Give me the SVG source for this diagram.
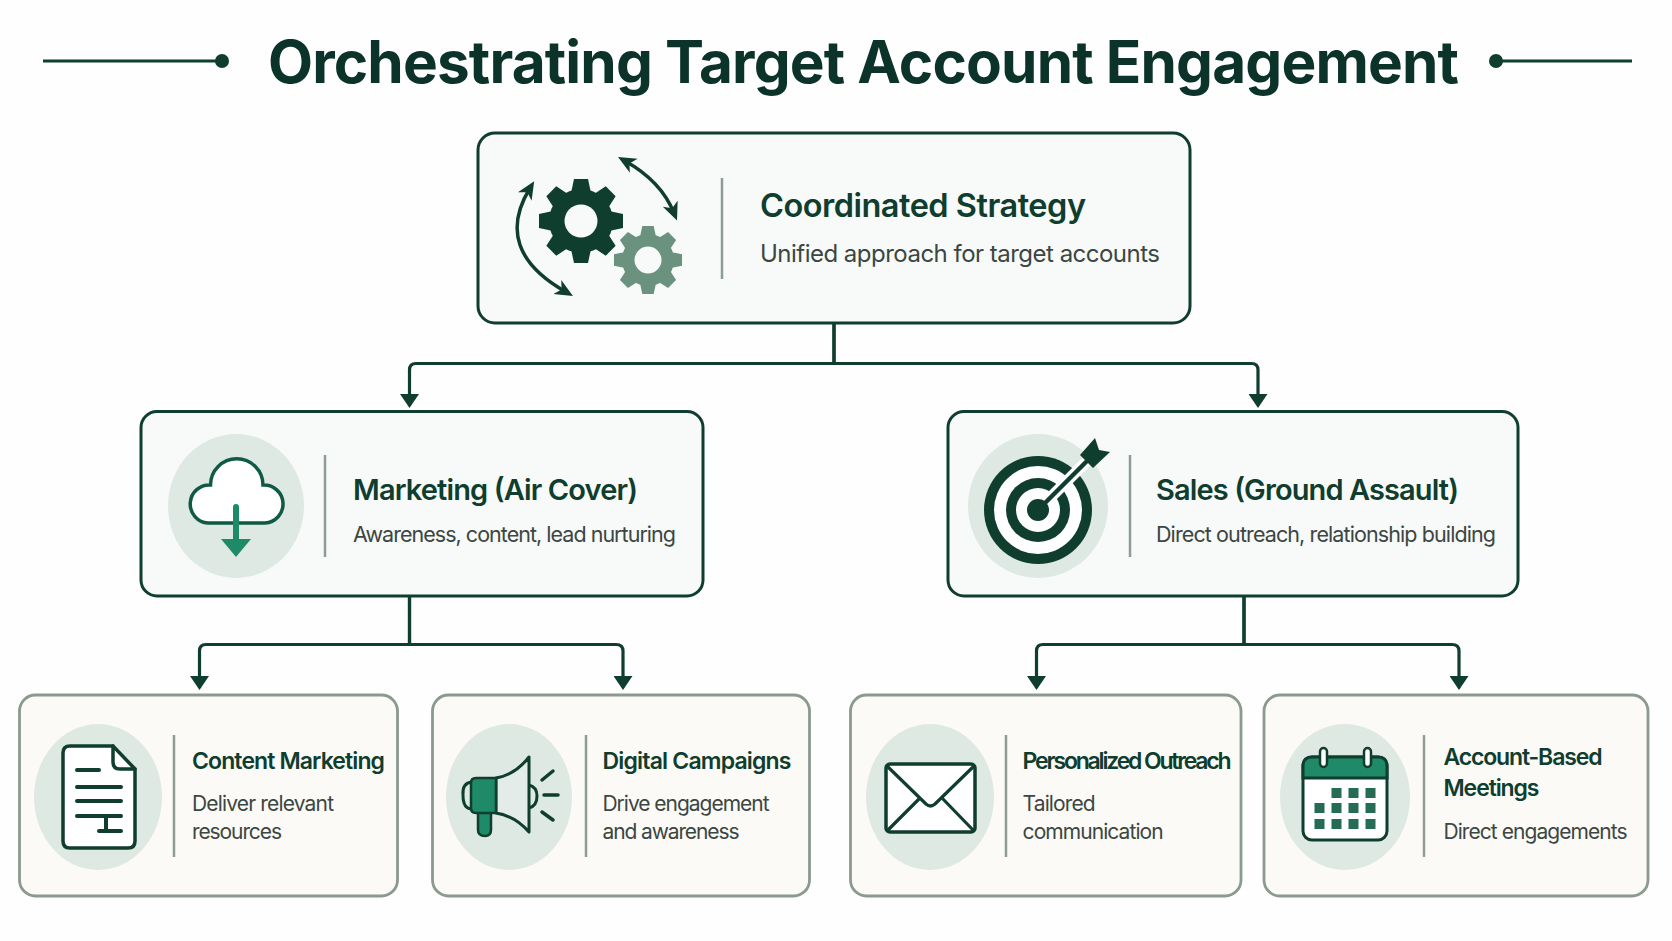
<svg xmlns="http://www.w3.org/2000/svg" xmlns:xlink="http://www.w3.org/1999/xlink" width="1672" height="941" viewBox="0 0 1672 941">
<style>
text{font-family:"Inter","Liberation Sans",sans-serif}
.title{font-size:58.5px;font-weight:700;fill:#0b3329}
.h1{font-size:32.5px;font-weight:600;fill:#0f3d2e}
.s1{font-size:24px;font-weight:400;fill:#3c4642}
.h2{font-size:29px;font-weight:600;fill:#0f3d2e}
.s2{font-size:21.5px;font-weight:400;fill:#3c4642}
.h3{font-size:23px;font-weight:600;fill:#0f3d2e}
.s3{font-size:21px;font-weight:400;fill:#3c4642}
.main{fill:#f7faf8;stroke:#0f3d2e;stroke-width:3}
.leaf{fill:#fbfaf6;stroke:#8b998f;stroke-width:2.800}
.div{stroke:#8f9c95;stroke-width:2.500;fill:none}
.disc{fill:#dfe9e4}
.ink{fill:none;stroke:#0f3d2e;stroke-linecap:round;stroke-linejoin:round}
.conn{fill:none;stroke:#0f3d2e;stroke-width:3.200;stroke-linejoin:round}
.sq{fill:#256b55}
</style>
<defs>
<marker id="ah" markerUnits="userSpaceOnUse" markerWidth="14" markerHeight="19" viewBox="0 0 14 19" refX="1" refY="9.500" orient="auto"><path d="M0 0L14 9.500L0 19Z" fill="#0f3d2e"/></marker>
<marker id="sa" markerUnits="userSpaceOnUse" markerWidth="18" markerHeight="18" viewBox="0 0 18 18" refX="10" refY="9" orient="auto"><path d="M0 1L18 9L0 17L5 9Z" fill="#0f3d2e"/></marker>
<marker id="sb" markerUnits="userSpaceOnUse" markerWidth="18" markerHeight="18" viewBox="0 0 18 18" refX="10" refY="9" orient="auto-start-reverse"><path d="M0 1L18 9L0 17L5 9Z" fill="#0f3d2e"/></marker>
<g id="tooth"><path d="M-10 -28L-7 -42H7L10 -28Z"/></g>
<g id="gear"><circle r="32"/><use xlink:href="#tooth"/><use xlink:href="#tooth" transform="rotate(45)"/><use xlink:href="#tooth" transform="rotate(90)"/><use xlink:href="#tooth" transform="rotate(135)"/><use xlink:href="#tooth" transform="rotate(180)"/><use xlink:href="#tooth" transform="rotate(225)"/><use xlink:href="#tooth" transform="rotate(270)"/><use xlink:href="#tooth" transform="rotate(315)"/></g>
</defs>
<rect width="1672" height="941" fill="#fdfefd"/>
<g id="title">
<path d="M43 61H218M1500 61H1632" stroke="#0f3d2e" stroke-width="3" fill="none"/>
<circle cx="222" cy="61" r="7" fill="#0f3d2e"/><circle cx="1496" cy="61" r="7" fill="#0f3d2e"/>
<text class="title" x="268" y="83" textLength="1191">Orchestrating Target Account Engagement</text>
</g>
<g id="connectors">
<path class="conn" d="M834 323V363.500H416Q409.500 363.500 409.500 370V395" marker-end="url(#ah)"/>
<path class="conn" d="M834 323V363.500H1251.500Q1258 363.500 1258 370V395" marker-end="url(#ah)"/>
<path class="conn" d="M409.500 596V644.500H206Q199.500 644.500 199.500 651V677" marker-end="url(#ah)"/>
<path class="conn" d="M409.500 596V644.500H616Q623 644.500 623 651V677" marker-end="url(#ah)"/>
<path class="conn" d="M1244 596V644.500H1043Q1036.500 644.500 1036.500 651V677" marker-end="url(#ah)"/>
<path class="conn" d="M1244 596V644.500H1452Q1459 644.500 1459 651V677" marker-end="url(#ah)"/>
</g>
<g id="node-strategy">
<rect class="main" x="478" y="133" width="712" height="190" rx="17"/>
<use xlink:href="#gear" transform="translate(581 221)" fill="#0f3d2e"/><circle cx="581" cy="221" r="16.500" fill="#f7faf8"/>
<use xlink:href="#gear" transform="translate(648 260) scale(.81)" fill="#6b917f"/><circle cx="648" cy="260" r="13.500" fill="#f7faf8"/>
<path d="M625 161Q661 181 674 213" fill="none" stroke="#0f3d2e" stroke-width="3.500" marker-start="url(#sb)" marker-end="url(#sa)"/>
<path d="M530 188Q492 250 566 292" fill="none" stroke="#0f3d2e" stroke-width="3.500" marker-start="url(#sb)" marker-end="url(#sa)"/>
<path class="div" d="M722 178V279"/>
<text class="h1" x="760" y="217" textLength="326">Coordinated Strategy</text>
<text class="s1" x="760" y="262" textLength="400">Unified approach for target accounts</text>
</g>
<g id="node-marketing">
<rect class="main" x="141" y="411.500" width="562" height="184.500" rx="16"/>
<ellipse class="disc" cx="236" cy="506" rx="68" ry="72"/>
<path d="M208 523A19 19 0 0 1 210.500 485A26 26 0 0 1 263 485A19 19 0 0 1 265 523Z" fill="#fff" stroke="#0f5a44" stroke-width="3.500"/>
<path d="M236 507V540" stroke="#1f8a67" stroke-width="6" stroke-linecap="round" fill="none"/>
<path d="M221 539H251L236 557Z" fill="#1f8a67"/>
<path class="div" d="M325 455V557"/>
<text class="h2" x="353" y="500" textLength="285">Marketing (Air Cover)</text>
<text class="s2" x="353" y="542" textLength="323">Awareness, content, lead nurturing</text>
</g>
<g id="node-sales">
<rect class="main" x="948" y="411.500" width="570" height="184.500" rx="16"/>
<ellipse class="disc" cx="1038" cy="506" rx="70" ry="72"/>
<circle cx="1038" cy="510" r="54" fill="#0f3d2e"/><circle cx="1038" cy="510" r="44" fill="#fff"/>
<circle cx="1038" cy="510" r="32" fill="#0f3d2e"/><circle cx="1038" cy="510" r="22" fill="#fff"/>
<circle cx="1038" cy="510" r="11" fill="#0f3d2e"/>
<path d="M1046 502L1087 461" stroke="#fff" stroke-width="11" fill="none"/>
<path d="M1040 508L1087 461" stroke="#0f3d2e" stroke-width="4.500" fill="none"/>
<path d="M1080 455L1095 438L1099 450L1110 452L1093 468Z" fill="#0f3d2e"/>
<path class="div" d="M1130 455V557"/>
<text class="h2" x="1156" y="500" textLength="303">Sales (Ground Assault)</text>
<text class="s2" x="1156" y="542" textLength="340">Direct outreach, relationship building</text>
</g>
<g id="node-content">
<rect class="leaf" x="19.500" y="695" width="378" height="201" rx="16"/>
<ellipse class="disc" cx="98" cy="797" rx="64" ry="73"/>
<path d="M70 746H113L135 769V841Q135 848 128 848H70Q63 848 63 841V753Q63 746 70 746Z" fill="#fff" stroke="#0f3d2e" stroke-width="3.500"/>
<path class="ink" stroke-width="3.500" d="M113 746V762Q113 769 120 769H135"/>
<path class="ink" stroke-width="4" d="M77 770H99M77 787H121M77 801H121M77 816H121M99 831H121M106 816V831"/>
<path class="div" d="M174 735V857"/>
<text class="h3" x="192" y="769" textLength="193">Content Marketing</text>
<text class="s3" x="192" y="811" textLength="142">Deliver relevant</text>
<text class="s3" x="192" y="839" textLength="90">resources</text>
</g>
<g id="node-campaigns">
<rect class="leaf" x="432.500" y="695" width="377" height="201" rx="16"/>
<ellipse class="disc" cx="509" cy="797" rx="63" ry="73"/>
<path d="M472 782Q462 783 463 795Q463 809 472 809" fill="none" stroke="#0f3d2e" stroke-width="3"/>
<path d="M529 785Q537 787 537 796Q537 806 529 808" fill="none" stroke="#0f3d2e" stroke-width="3"/>
<path d="M496 778Q515 775 529 757V832Q515 816 496 813Z" fill="#e3ece8" stroke="#0f3d2e" stroke-width="3" stroke-linejoin="round"/>
<path d="M478 812H491V830Q491 836 485 836Q478 836 478 830Z" fill="#1f8a67" stroke="#0f3d2e" stroke-width="2.500"/>
<path d="M476 778H496V813H476Q471 813 471 808V783Q471 778 476 778Z" fill="#1f8a67" stroke="#0f3d2e" stroke-width="2.500"/>
<path class="ink" stroke-width="3.500" d="M542 780L553 771M544 795H558M542 812L553 820"/>
<path class="div" d="M586 735V857"/>
<text class="h3" x="602.500" y="769" textLength="189">Digital Campaigns</text>
<text class="s3" x="602.500" y="811" textLength="167">Drive engagement</text>
<text class="s3" x="602.500" y="839" textLength="137">and awareness</text>
</g>
<g id="node-outreach">
<rect class="leaf" x="850.500" y="695" width="390.500" height="201" rx="16"/>
<ellipse class="disc" cx="930" cy="797" rx="64" ry="73"/>
<rect x="886" y="764" width="89" height="68" rx="4" fill="#fff" stroke="#0f3d2e" stroke-width="3.500"/>
<path class="ink" stroke-width="3.200" d="M888 767L926 804Q930.500 808 935 804L973 767M888 830L920 798M973 830L942 798"/>
<path class="div" d="M1006 735V857"/>
<text class="h3" x="1022.600" y="769" textLength="209">Personalized Outreach</text>
<text class="s3" x="1022.600" y="811" textLength="73">Tailored</text>
<text class="s3" x="1022.600" y="839" textLength="141">communication</text>
</g>
<g id="node-meetings">
<rect class="leaf" x="1264" y="695" width="384" height="201" rx="16"/>
<ellipse class="disc" cx="1345" cy="797" rx="65" ry="73"/>
<rect x="1303" y="757" width="84" height="83" rx="9" fill="#fff" stroke="#0f3d2e" stroke-width="3"/>
<path d="M1312 757H1378Q1387 757 1387 766V778H1303V766Q1303 757 1312 757Z" fill="#1f8a67" stroke="#0f3d2e" stroke-width="3"/>
<rect x="1320" y="748" width="7" height="19" rx="3.500" fill="#fff" stroke="#0f3d2e" stroke-width="2.500"/>
<rect x="1364" y="748" width="7" height="19" rx="3.500" fill="#fff" stroke="#0f3d2e" stroke-width="2.500"/>
<g class="sq">
<rect x="1331.500" y="788" width="10" height="10"/><rect x="1348.500" y="788" width="10" height="10"/><rect x="1365.500" y="788" width="10" height="10"/>
<rect x="1314.500" y="803" width="10" height="10"/><rect x="1331.500" y="803" width="10" height="10"/><rect x="1348.500" y="803" width="10" height="10"/><rect x="1365.500" y="803" width="10" height="10"/>
<rect x="1314.500" y="819" width="10" height="10"/><rect x="1331.500" y="819" width="10" height="10"/><rect x="1348.500" y="819" width="10" height="10"/><rect x="1365.500" y="819" width="10" height="10"/>
</g>
<path class="div" d="M1424 735V857"/>
<text class="h3" x="1443.500" y="765" textLength="159">Account-Based</text>
<text class="h3" x="1443.500" y="796" textLength="96">Meetings</text>
<text class="s3" x="1443.500" y="839" textLength="184">Direct engagements</text>
</g>
</svg>
